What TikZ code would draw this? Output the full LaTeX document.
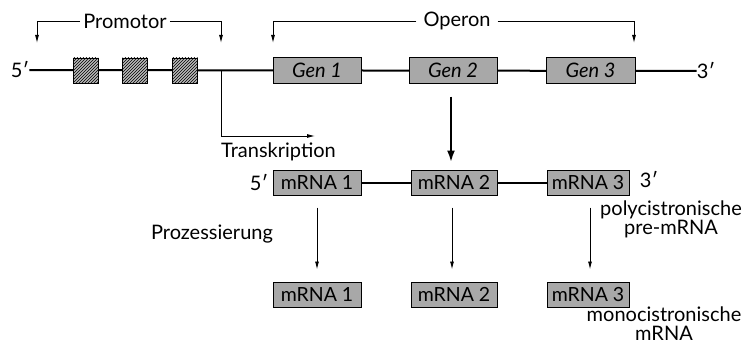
\documentclass[tikz,border=0pt]{standalone}
\usepackage{fontspec}
\setmainfont{Lato}
\usetikzlibrary{arrows.meta,patterns}
\definecolor{boxgray}{RGB}{168,168,168}
\begin{document}
\begin{tikzpicture}[x=1pt,y=-1pt,
  lbl/.style={font=\fontsize{20}{19}\selectfont, inner sep=0pt},
  genbox/.style={draw, line width=1pt, fill=boxgray, minimum height=25pt, inner sep=0pt, font=\fontsize{20}{22}\selectfont\itshape},
  rnabox/.style={draw, line width=1pt, fill=boxgray, minimum height=25pt, inner sep=0pt, font=\fontsize{19.5}{22}\selectfont},
  hbox/.style={draw, line width=0.9pt, fill=boxgray!80, postaction={pattern=north east lines}, minimum width=25pt, minimum height=25pt, inner sep=0pt},
  thin/.style={line width=0.9pt},
  arr/.style={thin, -{Latex[length=8pt,width=4pt]}},
  dna/.style={line width=2pt}
]
\useasboundingbox (0,0) rectangle (744,345);

% DNA
\node[lbl] (p5) at (20,70) {5′};
\node[lbl] (p3) at (706,71) {3′};
\draw[dna] (p5.east) -- (p3.west);
\node[hbox] (h1) at (85.5,70.5) {};
\node[hbox] (h2) at (135,70.5) {};
\node[hbox] (h3) at (185,70.5) {};
\node[genbox, minimum width=88pt] (gen1) at (317,70.5) {Gen 1};
\node[genbox, minimum width=88pt] (gen2) at (453,70.5) {Gen 2};
\node[genbox, minimum width=89pt] (gen3) at (590.5,70.5) {Gen 3};

% Promotor bracket
\node[lbl, inner xsep=3pt] (prom) at (125,21) {Promotor};
\coordinate (pl) at (37,43);
\coordinate (pr) at (221,43);
\draw[arr] (prom.west) -| (pl);
\draw[arr] (prom.east) -| (pr);

% Operon bracket
\node[lbl, inner xsep=7pt] (oper) at (457,21) {Operon};
\coordinate (ol) at (273,43);
\coordinate (or) at (634,43);
\draw[arr] (oper.west) -| (ol);
\draw[arr] (oper.east) -| (or);

% Transkription
\coordinate (ts) at (221,71);
\coordinate (te) at (315,136);
\draw[arr] (ts) |- (te);
\node[lbl, anchor=base west] (transk) at (221,157) {Transkription};

% pre-mRNA
\node[lbl] (m5) at (259,183) {5′};
\node[lbl] (m3) at (649,180) {3′};
\node[rnabox, minimum width=88pt] (mr1) at (317,182.5) {mRNA 1};
\node[rnabox, minimum width=86pt] (mr2) at (454,182.5) {mRNA 2};
\node[rnabox, minimum width=82pt] (mr3) at (588,182.5) {mRNA 3};
\draw[dna] (mr1.east) -- (mr2.west);
\draw[dna] (mr2.east) -- (mr3.west);

\draw[line width=2.8pt, -{Latex[length=12pt,width=8pt]}, shorten <=13pt, shorten >=7pt] (gen2.south -| 451,0) -- (mr2.north -| 451,0);

\node[lbl, align=center] (poly) at (671,219) {polycistronische\\pre-mRNA};

% mature mRNAs
\node[rnabox, minimum width=88pt] (m1) at (317,294.5) {mRNA 1};
\node[rnabox, minimum width=86pt] (m2) at (454,294.5) {mRNA 2};
\node[rnabox, minimum width=82pt] (mm3) at (588,294.5) {mRNA 3};

\draw[arr, shorten <=12pt, shorten >=12pt] (mr1) -- (m1);
\draw[arr, shorten <=12pt, shorten >=12pt] (mr2.south -| 452,0) -- (m2.north -| 452,0);
\draw[arr, shorten <=12pt, shorten >=12pt] (mr3.south -| 590,0) -- (mm3.north -| 590,0);

\node[lbl] (proz) at (212,234) {Prozessierung};
\node[lbl, align=center] (mono) at (664,324) {monocistronische\\mRNA};
\end{tikzpicture}
\end{document}
